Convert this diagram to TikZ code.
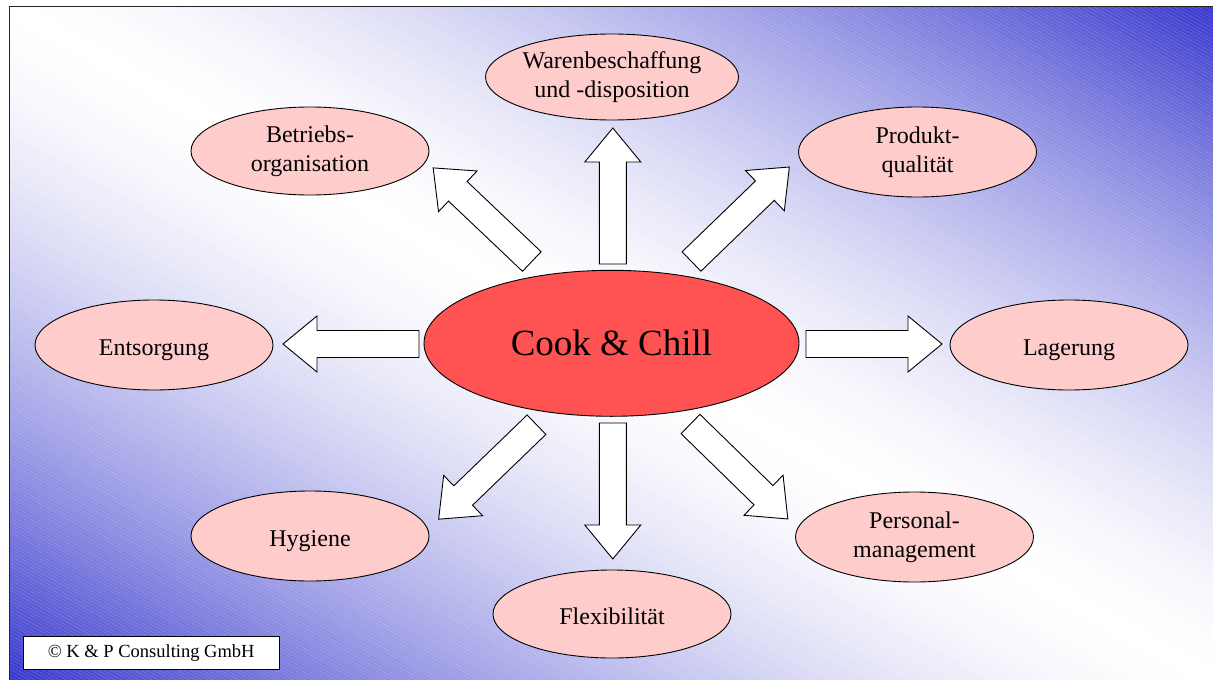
\documentclass[tikz,border=0pt]{standalone}
\usepackage{fontspec}
\setmainfont{Liberation Serif}
\usetikzlibrary{shapes.geometric}
\definecolor{bgblue}{RGB}{51,51,204}
\definecolor{lpink}{RGB}{255,204,204}
\definecolor{cred}{RGB}{255,82,82}
\tikzset{
  lab/.style={ellipse, draw=black, line width=0.9pt, fill=lpink, minimum width=238pt, minimum height=90pt, inner sep=0pt, align=center, font=\fontsize{24}{29}\selectfont},
  lab1/.style={lab, text height=20pt, text depth=0pt},
  barrow/.pic={\draw[line width=0.9pt, fill=white] (0,-13.5) -- (102,-13.5) -- (102,-28) -- (136,0) -- (102,28) -- (102,13.5) -- (0,13.5) -- cycle;}
}
\begin{document}
\begin{tikzpicture}[x=1pt,y=-1pt]
\useasboundingbox (0,0) rectangle (1213,680);
\fill[white] (0,0) rectangle (1213,680);
% background gradient with hatching
\begin{scope}
  \clip (9,6) rectangle (1213,680);
  \begin{scope}[shift={(611,343)}, rotate=-29.2]
    \foreach \i in {0,...,64}{
      \pgfmathsetmacro{\pa}{min(100,100*(\i/59)^1.5)}
      \pgfmathsetmacro{\va}{\i*10}
      \pgfmathsetmacro{\vb}{\i*10+10.6}
      \fill[bgblue!\pa!white] (-900,\va) rectangle (900,\vb);
      \fill[bgblue!\pa!white] (-900,-\va) rectangle (900,-\vb);
    }
    \foreach \v in {-700,-697,...,700}
      \draw[white, opacity=0.22, line width=0.4pt] (-900,\v) -- (900,\v);
  \end{scope}
\end{scope}
\draw[line width=1pt, black!85] (9,680) -- (9,6) -- (1213,6);

% centre
\node[ellipse, draw=black, line width=0.9pt, fill=cred, minimum width=375pt, minimum height=146pt, inner sep=0pt, font=\fontsize{37}{40}\selectfont] (cc) at (611.5,343.3) {Cook \& Chill};

% outer nodes
\node[lab, minimum height=86pt] (ware) at (612,77) {Warenbeschaffung\\und -disposition};
\node[lab, minimum height=88pt] (betr) at (310,151) {Betriebs-\\organisation};
\node[lab] (prod) at (917.5,152) {Produkt-\\qualität};
\node[lab1] (ent) at (154,345) {Entsorgung};
\node[lab1] (lag) at (1069,345) {Lagerung};
\node[lab1] (hyg) at (310,536) {Hygiene};
\node[lab1, minimum height=88pt] (flex) at (612,614) {Flexibilität};
\node[lab] (pers) at (914.5,537) {Personal-\\management};

% block arrows
\coordinate (aN) at (612.8,264);
\coordinate (aS) at (612.8,423);
\coordinate (aW) at (419,344);
\coordinate (aE) at (806,344);
\coordinate (aNW) at (531.8,261.5);
\coordinate (aNE) at (691.5,261.5);
\coordinate (aSW) at (536.5,424.7);
\coordinate (aSE) at (690.5,424);
\path (aN) pic[rotate=90] {barrow};
\path (aS) pic[rotate=-90] {barrow};
\path (aW) pic[rotate=180] {barrow};
\path (aE) pic[rotate=0] {barrow};
\path (aNW) pic[rotate=136.5] {barrow};
\path (aNE) pic[rotate=44] {barrow};
\path (aSW) pic[rotate=-136] {barrow};
\path (aSE) pic[rotate=-44.3] {barrow};

% copyright
\node[draw=black, line width=0.9pt, fill=white, minimum width=256pt, minimum height=33pt, inner sep=0pt, font=\fontsize{18.5}{21}\selectfont] (copy) at (151.2,652.7) {© K \& P Consulting GmbH};
\end{tikzpicture}
\end{document}
